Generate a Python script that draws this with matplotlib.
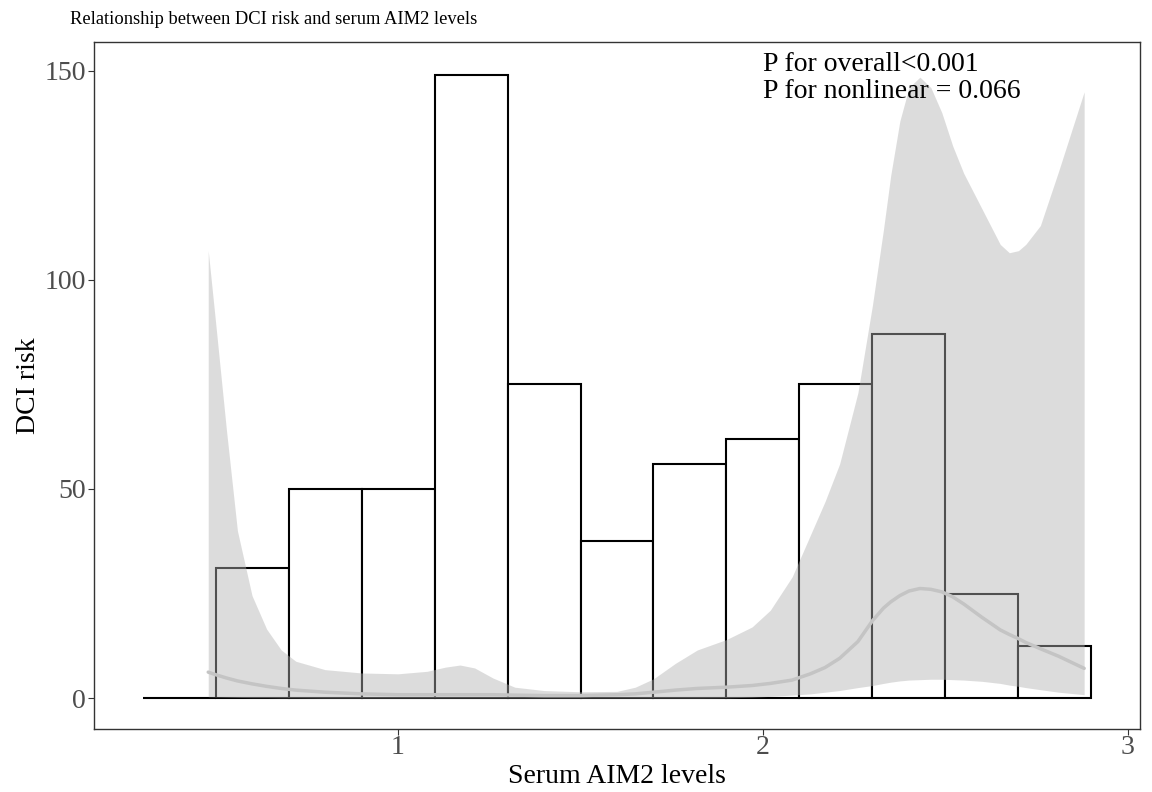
import matplotlib
matplotlib.use("Agg")
import matplotlib.pyplot as plt

plt.rcParams["font.family"] = ["Liberation Serif", "DejaVu Serif"]

# histogram of serum AIM2 (bin edges + heights)
bin_left = [0.3, 0.5, 0.7, 0.9, 1.1, 1.3, 1.5, 1.7, 1.9, 2.1, 2.3, 2.5, 2.7]
bin_height = [0, 31, 50, 50, 149, 75, 37.5, 56, 62, 75, 87, 25, 12.5]
bin_width = 0.2

# RCS fit: risk curve and 95% CI
aim2 = [0.48, 0.50, 0.53, 0.56, 0.60, 0.64, 0.68, 0.72, 0.80, 0.90,
        1.00, 1.08, 1.13, 1.17, 1.21, 1.26, 1.32, 1.40, 1.50, 1.60,
        1.65, 1.70, 1.76, 1.82, 1.90, 1.97, 2.02, 2.08, 2.13, 2.17,
        2.21, 2.26, 2.30, 2.33, 2.35, 2.375, 2.40, 2.43, 2.46, 2.49,
        2.52, 2.55, 2.60, 2.65, 2.675, 2.70, 2.72, 2.76, 2.81, 2.88]
risk = [6.2, 5.6, 4.8, 4.1, 3.4, 2.8, 2.3, 1.9, 1.4, 1.0,
        0.8, 0.8, 0.8, 0.8, 0.8, 0.8, 0.7, 0.6, 0.6, 0.8,
        1.0, 1.4, 1.9, 2.3, 2.6, 3.0, 3.5, 4.3, 5.8, 7.3,
        9.5, 13.5, 18.5, 21.5, 23, 24.5, 25.6, 26.2, 26, 25.4,
        24.2, 22.5, 19.3, 16.3, 15.2, 14.2, 13.3, 11.8, 10, 7.1]
upper = [107, 90, 64, 40, 24.5, 16.5, 11.5, 8.8, 6.8, 6.0,
         5.8, 6.4, 7.4, 7.9, 7.2, 4.8, 2.6, 1.8, 1.5, 1.6,
         2.6, 4.6, 8.3, 11.5, 14, 17, 21, 29, 39, 47,
         56, 73, 94, 112, 125, 138, 146, 148.5, 146, 140,
         132, 125.5, 117, 108.5, 106.5, 107, 108.5, 113, 126, 145]
lower = [0.3, 0.25, 0.2, 0.15, 0.1, 0.1, 0.05, 0.05, 0, 0,
         0, 0, 0, 0, 0, 0, 0, 0, 0, 0,
         0, 0, 0, 0, 0.05, 0.2, 0.4, 0.7, 1.0, 1.4,
         1.8, 2.5, 3.0, 3.5, 3.8, 4.1, 4.3, 4.4, 4.5, 4.5,
         4.4, 4.3, 4.0, 3.5, 3.1, 2.8, 2.5, 2.0, 1.4, 0.8]

fig = plt.figure(figsize=(11.52, 7.92), dpi=100)
ax = fig.add_axes([94/1152, 63/792, 1046/1152, 687/792])

ax.bar(bin_left, bin_height, width=bin_width, align="edge", color="white",
       edgecolor="black", linewidth=1.5, zorder=1)
ax.fill_between(aim2, lower, upper, color=(0.70, 0.70, 0.70), alpha=0.45,
                linewidth=0, zorder=2)
ax.plot(aim2, risk, color="#c4c4c4", lw=2.5, zorder=3, solid_capstyle="round")

ax.text(2.0, 151.5, "P for overall<0.001", fontsize=20, va="center", ha="left")
ax.text(2.0, 145, "P for nonlinear = 0.066", fontsize=20, va="center", ha="left")

ax.set_xlim(0.167, 3.033)
ax.set_ylim(-7.4, 156.9)
ax.set_xticks([1, 2, 3])
ax.set_yticks([0, 50, 100, 150])
ax.tick_params(labelsize=20, labelcolor="#4d4d4d", color="#333333", length=4)
ax.tick_params(axis="x", pad=0)
ax.tick_params(axis="y", pad=2)
for s in ax.spines.values():
    s.set_color("#333333")
    s.set_linewidth(1)
ax.set_xlabel("Serum AIM2 levels", fontsize=20, labelpad=3)
ax.set_ylabel("DCI risk", fontsize=20, labelpad=2)

fig.text(70/1152, 1 - 20/792, "Relationship between DCI risk and serum AIM2 levels",
         fontsize=13.3, va="center", ha="left")

fig.savefig("out.png", dpi=100, facecolor="white")
